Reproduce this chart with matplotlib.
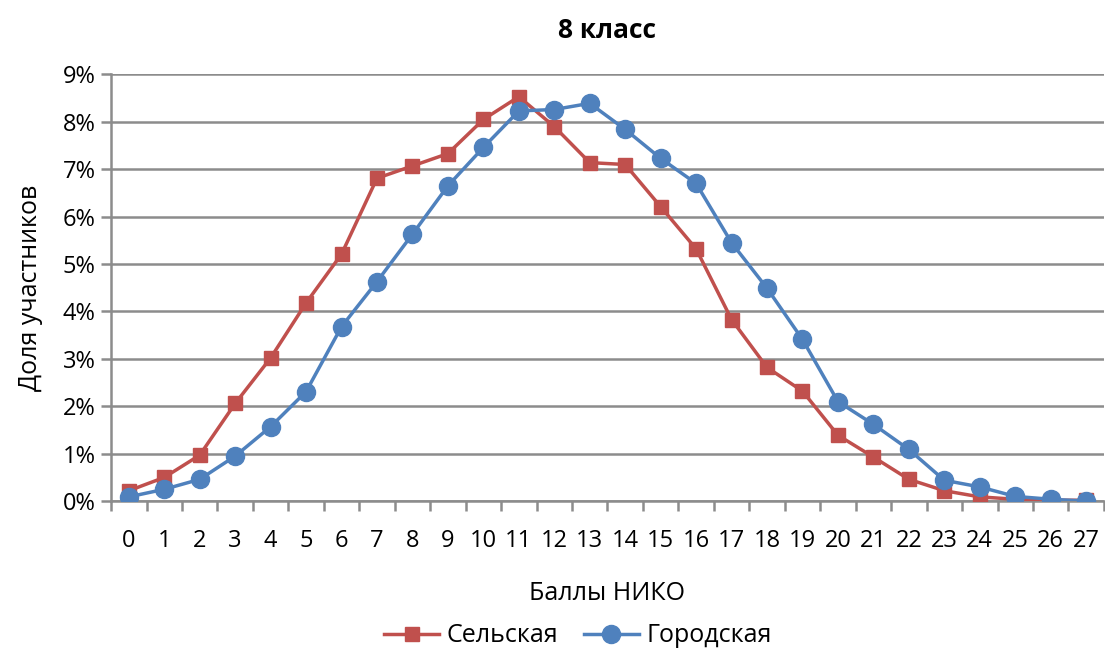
import matplotlib
matplotlib.use("Agg")
import matplotlib.pyplot as plt
from matplotlib.ticker import FixedLocator, FuncFormatter

scores = list(range(28))
rural = [0.22, 0.50, 0.97, 2.06, 3.02, 4.18, 5.21, 6.81, 7.07, 7.33,
         8.05, 8.53, 7.90, 7.14, 7.10, 6.21, 5.32, 3.83, 2.82, 2.32,
         1.39, 0.93, 0.46, 0.22, 0.09, 0.04, 0.02, 0.02]
urban = [0.09, 0.25, 0.46, 0.95, 1.57, 2.31, 3.68, 4.63, 5.63, 6.65,
         7.46, 8.23, 8.26, 8.39, 7.84, 7.23, 6.70, 5.45, 4.49, 3.41,
         2.10, 1.62, 1.09, 0.44, 0.30, 0.10, 0.04, 0.00]
y_ticks = list(range(0, 10))

plt.rcParams['font.family'] = ['Open Sans', 'DejaVu Sans']

fig = plt.figure(figsize=(11.05, 6.5), dpi=100)
ax = fig.add_axes([0.1005, 0.229, 0.8985, 0.6565])

red = '#C0504D'
blue = '#4F81BD'
grid_c = '#8C8C8C'

ax.plot(scores, rural, color=red, lw=2.5, marker='s', ms=10, label='Сельская', zorder=3)
ax.plot(scores, urban, color=blue, lw=2.5, marker='o', ms=13, label='Городская', zorder=3)

ax.set_xlim(-0.5, 27.5)
ax.set_ylim(0, 9)
ax.set_yticks(y_ticks)
ax.yaxis.set_major_formatter(FuncFormatter(lambda v, p: f'{int(v)}%'))
ax.grid(axis='y', color=grid_c, lw=1.8)
ax.set_axisbelow(True)

ax.set_xticks(scores)
ax.set_xticklabels([str(s) for s in scores])
ax.xaxis.set_minor_locator(FixedLocator([s + 0.5 for s in range(-1, 28)]))
ax.tick_params(axis='x', which='major', length=0, labelsize=17, pad=20)
ax.tick_params(axis='x', which='minor', length=7, width=1.8, color=grid_c)
ax.tick_params(axis='y', length=7, width=1.8, color=grid_c, labelsize=17, pad=4)

for s in ['top', 'right']:
    ax.spines[s].set_visible(False)
for s in ['left', 'bottom']:
    ax.spines[s].set_color(grid_c)
    ax.spines[s].set_linewidth(1.8)

ax.set_title('8 класс', fontsize=19, fontweight='bold', pad=26)
ax.set_xlabel('Баллы НИКО', fontsize=18, labelpad=20)
ax.set_ylabel('Доля участников', fontsize=18, labelpad=14)

fig.legend(loc='lower center', bbox_to_anchor=(0.523, -0.032), ncol=2, frameon=False,
           fontsize=18, handlelength=2.2, columnspacing=1.0, handletextpad=0.3)

fig.savefig('out.png', dpi=100)
